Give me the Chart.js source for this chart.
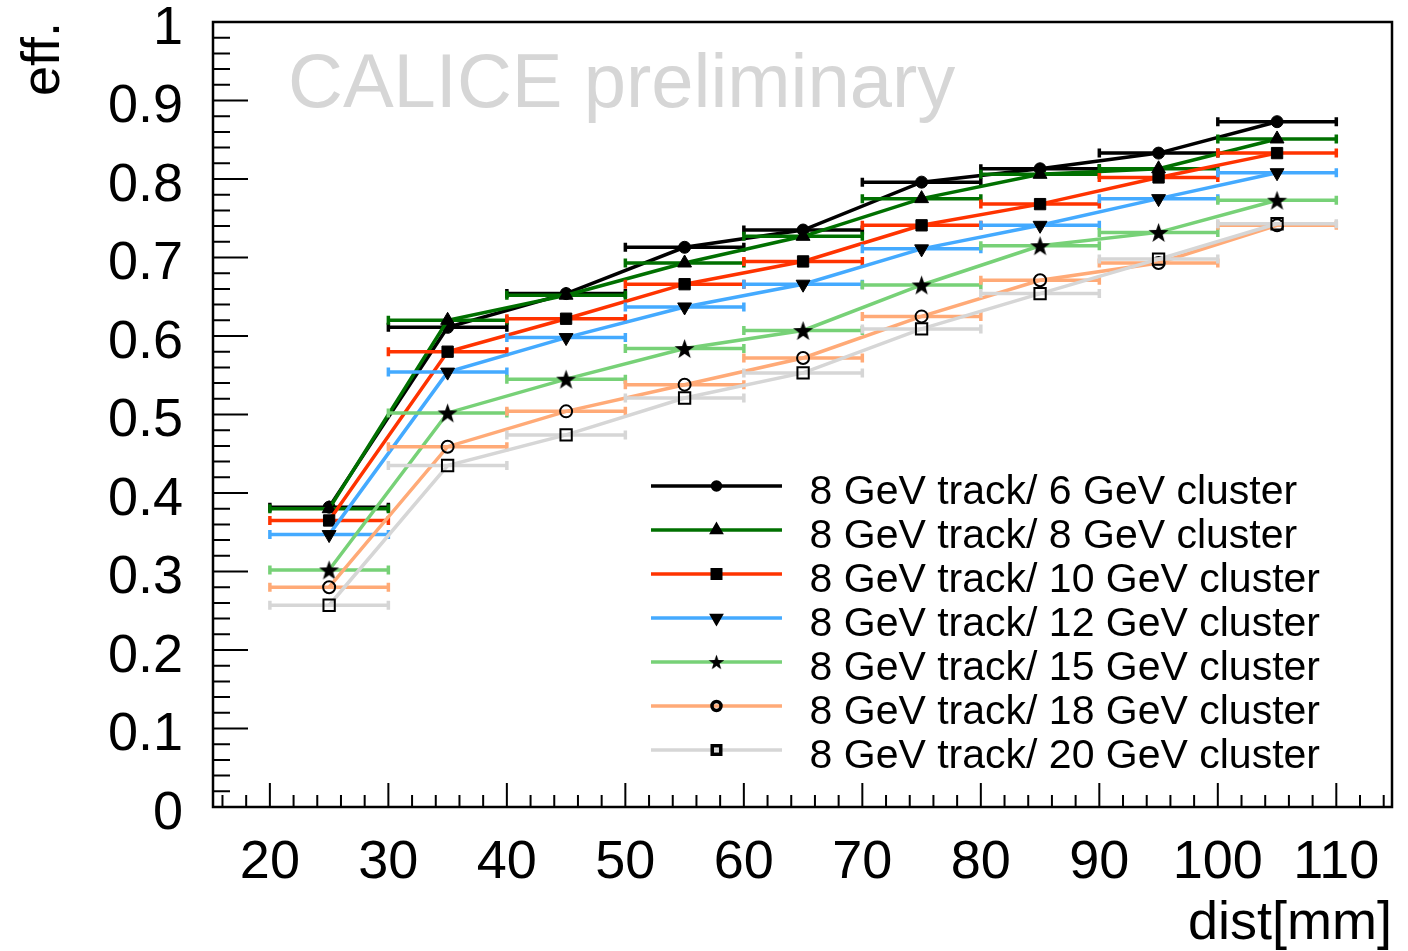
<!DOCTYPE html>
<html>
<head>
<meta charset="utf-8">
<title>CALICE track-cluster efficiency</title>
<script src="https://cdn.jsdelivr.net/npm/chart.js@4/dist/chart.umd.min.js"></script>
<style>
  html, body { margin: 0; padding: 0; background: #fff; }
  canvas { display: block; }
</style>
</head>
<body>
<canvas id="eff-chart" width="1408" height="951"></canvas>
<script>
// bin centres (mm) and half width of the horizontal error bars
const distCenters = [25, 35, 45, 55, 65, 75, 85, 95, 105];
const binHalfWidth = 5;

const seriesLabels = [
  '8 GeV track/ 6 GeV cluster',
  '8 GeV track/ 8 GeV cluster',
  '8 GeV track/ 10 GeV cluster',
  '8 GeV track/ 12 GeV cluster',
  '8 GeV track/ 15 GeV cluster',
  '8 GeV track/ 18 GeV cluster',
  '8 GeV track/ 20 GeV cluster'
];

const eff6GeV  = [0.382, 0.611, 0.654, 0.713, 0.735, 0.796, 0.813, 0.833, 0.873];
const eff8GeV  = [0.380, 0.620, 0.652, 0.693, 0.727, 0.775, 0.806, 0.813, 0.851];
const eff10GeV = [0.365, 0.580, 0.622, 0.666, 0.695, 0.741, 0.768, 0.802, 0.833];
const eff12GeV = [0.347, 0.554, 0.598, 0.637, 0.666, 0.711, 0.741, 0.775, 0.808];
const eff15GeV = [0.302, 0.502, 0.545, 0.584, 0.607, 0.665, 0.715, 0.732, 0.773];
const eff18GeV = [0.280, 0.459, 0.504, 0.538, 0.572, 0.625, 0.671, 0.693, 0.741];
const eff20GeV = [0.257, 0.435, 0.474, 0.521, 0.553, 0.609, 0.654, 0.698, 0.743];
const seriesValues = [eff6GeV, eff8GeV, eff10GeV, eff12GeV, eff15GeV, eff18GeV, eff20GeV];

const xTickValues = [20, 30, 40, 50, 60, 70, 80, 90, 100, 110];
const yTickValues = [0, 0.1, 0.2, 0.3, 0.4, 0.5, 0.6, 0.7, 0.8, 0.9, 1];
const yTickLabels = ['0', '0.1', '0.2', '0.3', '0.4', '0.5', '0.6', '0.7', '0.8', '0.9', '1'];

const lineColors = ['#000000', '#007000', '#ff3300', '#44aaff', '#77d177', '#ffaa77', '#d6d6d6'];

const FONT = "'Liberation Sans', Arial, Helvetica, sans-serif";

// filled five point star, chart.js has no such point style
function makeStar(size) {
  const c = document.createElement('canvas');
  c.width = size; c.height = size;
  const g = c.getContext('2d');
  const r1 = size / 2, r2 = r1 * 0.4;
  g.beginPath();
  for (let i = 0; i < 10; i++) {
    const r = i % 2 === 0 ? r1 : r2;
    const a = -Math.PI / 2 + i * Math.PI / 5;
    const px = size / 2 + r * Math.cos(a), py = size / 2 + r * Math.sin(a) + 1;
    if (i === 0) g.moveTo(px, py); else g.lineTo(px, py);
  }
  g.closePath();
  g.fillStyle = '#000';
  g.fill();
  return c;
}
const starImage = makeStar(21);

const markerStyles = ['circle', 'triangle', 'rect', 'triangle', starImage, 'circle', 'rect'];
const markerRadius = [6, 8, 8, 8, 8, 6, 8];
const markerRotation = [0, 0, 0, 180, 0, 0, 0];
const markerFill = ['#000', '#000', '#000', '#000', '#000', 'rgba(0,0,0,0)', 'rgba(0,0,0,0)'];
const markerBorder = [1, 1, 1, 1, 0, 2, 2];
const legendRadius = [4, 5, 6, 5, 8, 4.5, 6];

const datasets = seriesValues.map((vals, i) => ({
  label: seriesLabels[i],
  data: distCenters.map((x, j) => ({ x: x, y: vals[j] })),
  borderColor: lineColors[i],
  borderWidth: 3.5,
  fill: false,
  tension: 0,
  pointStyle: markerStyles[i],
  pointRadius: markerRadius[i],
  pointRotation: markerRotation[i],
  pointBackgroundColor: markerFill[i],
  pointBorderColor: '#000',
  pointBorderWidth: markerBorder[i],
  order: seriesValues.length - 1 - i
}));

// horizontal bin-width error bars, drawn under each series' line
const errorBars = {
  id: 'errorBars',
  beforeDatasetDraw(chart, args) {
    const { ctx, scales: { x, y } } = chart;
    const ds = chart.data.datasets[args.index];
    ctx.save();
    ctx.strokeStyle = ds.borderColor;
    ctx.lineWidth = 3.5;
    ds.data.forEach(p => {
      const x0 = x.getPixelForValue(p.x - binHalfWidth);
      const x1 = x.getPixelForValue(p.x + binHalfWidth);
      const py = y.getPixelForValue(p.y);
      ctx.beginPath();
      ctx.moveTo(x0, py); ctx.lineTo(x1, py);
      ctx.moveTo(x0, py - 4.5); ctx.lineTo(x0, py + 4.5);
      ctx.moveTo(x1, py - 4.5); ctx.lineTo(x1, py + 4.5);
      ctx.stroke();
    });
    ctx.restore();
  }
};

const watermark = {
  id: 'watermark',
  beforeDatasetsDraw(chart) {
    const { ctx, chartArea: a } = chart;
    ctx.save();
    ctx.font = '76px ' + FONT;
    ctx.fillStyle = '#d6d6d6';
    ctx.textBaseline = 'alphabetic';
    ctx.fillText('CALICE preliminary', a.left + 75, a.top + 85);
    ctx.restore();
  }
};

// ROOT style frame with inward ticks on the left and bottom
const rootFrame = {
  id: 'rootFrame',
  afterDraw(chart) {
    const { ctx, chartArea: a, scales: { x, y } } = chart;
    ctx.save();
    ctx.strokeStyle = '#000';
    ctx.lineWidth = 2;
    ctx.beginPath();
    for (let v = 16; v <= 114; v += 2) {
      const px = x.getPixelForValue(v);
      const len = v % 10 === 0 ? 24 : 12;
      ctx.moveTo(px, a.bottom); ctx.lineTo(px, a.bottom - len);
    }
    for (let k = 0; k <= 50; k++) {
      const py = y.getPixelForValue(k * 0.02);
      const len = k % 5 === 0 ? 35 : 17;
      ctx.moveTo(a.left, py); ctx.lineTo(a.left + len, py);
    }
    ctx.stroke();
    ctx.lineWidth = 2.5;
    ctx.strokeRect(a.left, a.top, a.right - a.left, a.bottom - a.top);
    ctx.restore();
  }
};

// legend: line with marker in its middle, text to the right
const rootLegend = {
  id: 'rootLegend',
  afterDraw(chart) {
    const { ctx, chartArea: a } = chart;
    const w = a.right - a.left;
    const lx0 = a.left + 0.3715 * w, lx1 = a.left + 0.4826 * w;
    const tx = a.left + 0.506 * w;
    ctx.save();
    chart.data.datasets.forEach((ds, i) => {
      const ry = a.top + 464 + i * 44;
      ctx.strokeStyle = ds.borderColor;
      ctx.lineWidth = 3.5;
      ctx.beginPath();
      ctx.moveTo(lx0, ry); ctx.lineTo(lx1, ry);
      ctx.stroke();
      const mx = (lx0 + lx1) / 2;
      if (ds.pointStyle instanceof HTMLCanvasElement) {
        const s = 16;
        ctx.drawImage(ds.pointStyle, mx - s / 2, ry - s / 2, s, s);
      } else {
        ctx.fillStyle = ds.pointBackgroundColor;
        ctx.strokeStyle = '#000';
        Chart.helpers.drawPoint(ctx, {
          pointStyle: ds.pointStyle,
          rotation: ds.pointRotation,
          radius: legendRadius[i],
          borderWidth: ds.pointBorderWidth
        }, mx, ry);
      }
      ctx.fillStyle = '#000';
      ctx.font = '41px ' + FONT;
      ctx.textBaseline = 'alphabetic';
      ctx.fillText(ds.label, tx, ry + 18);
    });
    ctx.restore();
  }
};

new Chart(document.getElementById('eff-chart'), {
  type: 'line',
  data: { datasets: datasets },
  plugins: [errorBars, watermark, rootFrame, rootLegend],
  options: {
    responsive: false,
    animation: false,
    layout: { padding: { top: 22, right: 16, left: 0, bottom: 0 } },
    plugins: { legend: { display: false }, tooltip: { enabled: false } },
    scales: {
      x: {
        type: 'linear',
        min: 15.2,
        max: 114.7,
        afterFit(scale) {
          scale.height = 144;
          scale.paddingLeft = 0;
          scale.paddingRight = 0;
        },
        afterBuildTicks(scale) { scale.ticks = xTickValues.map(v => ({ value: v })); },
        grid: { display: false, drawTicks: false },
        border: { display: false },
        ticks: {
          padding: 24,
          maxRotation: 0,
          autoSkip: false,
          color: '#000',
          font: { family: FONT, size: 54 },
          callback: v => String(v)
        },
        title: {
          display: true,
          text: 'dist[mm]',
          align: 'end',
          color: '#000',
          font: { family: FONT, size: 54, lineHeight: 1 },
          padding: { top: 0, bottom: 0 }
        }
      },
      y: {
        type: 'linear',
        min: 0,
        max: 1,
        afterFit(scale) {
          scale.width = 213;
          scale.paddingTop = 0;
          scale.paddingBottom = 0;
        },
        afterBuildTicks(scale) { scale.ticks = yTickValues.map(v => ({ value: v })); },
        grid: { display: false, drawTicks: false },
        border: { display: false },
        ticks: {
          padding: 30,
          labelOffset: 7,
          autoSkip: false,
          color: '#000',
          font: { family: FONT, size: 54 },
          callback: (v, idx) => yTickLabels[idx]
        },
        title: {
          display: true,
          text: 'eff.',
          align: 'end',
          color: '#000',
          font: { family: FONT, size: 54, lineHeight: 1 },
          padding: { top: 17, bottom: 0 }
        }
      }
    }
  }
});
</script>
</body>
</html>
